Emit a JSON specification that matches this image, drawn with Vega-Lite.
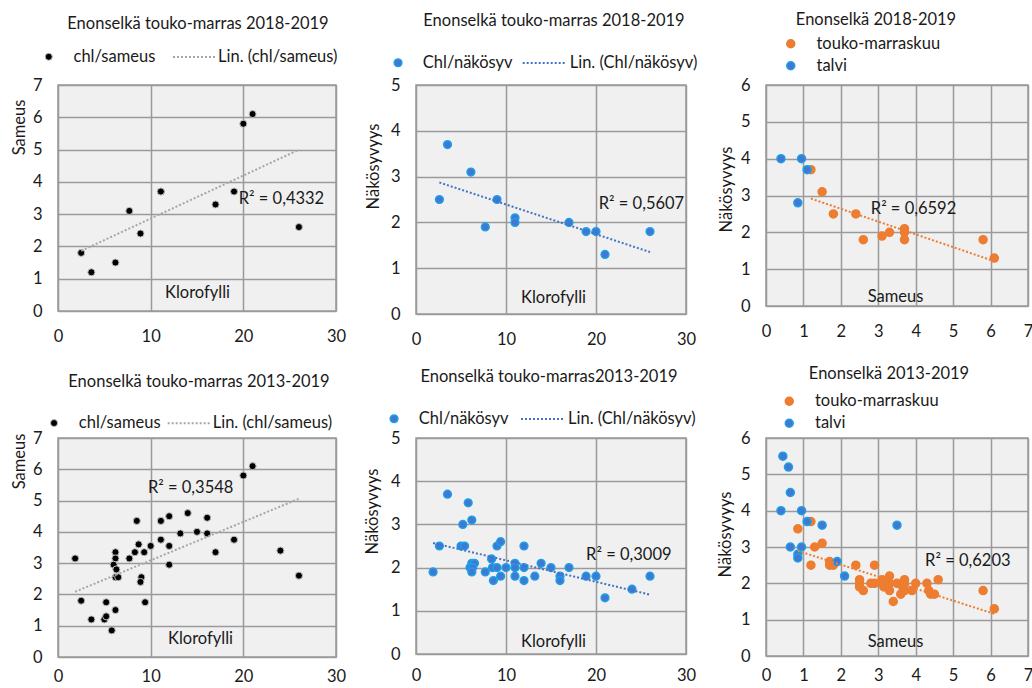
{
"$schema": "https://vega.github.io/schema/vega-lite/v6.json",
"padding": {"left": 10, "top": 11, "right": 0, "bottom": 0},
"config": {
  "font": "Lato",
  "view": {"fill": "#f0f0f0", "stroke": "#9a9a9a", "strokeWidth": 1.5},
  "axis": {"grid": true, "gridColor": "#9a9a9a", "gridWidth": 1.5, "gridOpacity": 1, "domain": false, "ticks": false, "labelFont": "Lato", "labelFontSize": 16.5, "labelColor": "#1a1a1a", "labelFlush": false, "labelOverlap": false, "titleFont": "Lato", "titleFontSize": 16.5, "titleFontWeight": "normal", "titleColor": "#1a1a1a", "titleBaseline": "middle"},
  "axisX": {"labelPadding": 17},
  "axisY": {"labelPadding": 16},
  "title": {"font": "Lato", "fontSize": 16.5, "fontWeight": "normal", "color": "#1a1a1a", "anchor": "middle", "frame": "group"},
  "legend": {"labelFont": "Lato", "labelFontSize": 16.5, "labelColor": "#1a1a1a", "padding": 0, "title": null},
  "text": {"font": "Lato", "fontSize": 16.5, "color": "#1a1a1a"}
},
"datasets": {
  "p1": [{"chl":2.5,"sam":1.8},{"chl":3.6,"sam":1.2},{"chl":6.2,"sam":1.5},{"chl":7.7,"sam":3.1},{"chl":8.9,"sam":2.4},{"chl":11.1,"sam":3.7},{"chl":11.1,"sam":3.7},{"chl":17,"sam":3.3},{"chl":19,"sam":3.7},{"chl":20,"sam":5.8},{"chl":21,"sam":6.1},{"chl":26,"sam":2.6}],
  "p2": [{"chl":2.6,"nak":2.5},{"chl":3.5,"nak":3.7},{"chl":6.1,"nak":3.1},{"chl":7.7,"nak":1.9},{"chl":9,"nak":2.5},{"chl":11,"nak":2.1},{"chl":11,"nak":2.0},{"chl":17,"nak":2.0},{"chl":18.9,"nak":1.8},{"chl":20,"nak":1.8},{"chl":21,"nak":1.3},{"chl":26,"nak":1.8}],
  "p3": [{"sam":1.2,"nak":3.7,"s":"touko-marraskuu"},{"sam":1.5,"nak":3.1,"s":"touko-marraskuu"},{"sam":1.8,"nak":2.5,"s":"touko-marraskuu"},{"sam":2.4,"nak":2.5,"s":"touko-marraskuu"},{"sam":2.6,"nak":1.8,"s":"touko-marraskuu"},{"sam":3.1,"nak":1.9,"s":"touko-marraskuu"},{"sam":3.3,"nak":2.0,"s":"touko-marraskuu"},{"sam":3.7,"nak":2.1,"s":"touko-marraskuu"},{"sam":3.7,"nak":2.0,"s":"touko-marraskuu"},{"sam":3.7,"nak":1.8,"s":"touko-marraskuu"},{"sam":5.8,"nak":1.8,"s":"touko-marraskuu"},{"sam":6.1,"nak":1.3,"s":"touko-marraskuu"},
         {"sam":0.4,"nak":4.0,"s":"talvi"},{"sam":0.95,"nak":4.0,"s":"talvi"},{"sam":1.1,"nak":3.7,"s":"talvi"},{"sam":0.85,"nak":2.8,"s":"talvi"}],
  "p4": [{"chl":1.85,"sam":3.15},{"chl":2.5,"sam":1.8},{"chl":3.6,"sam":1.2},{"chl":5.0,"sam":1.2},{"chl":5.2,"sam":1.3},{"chl":5.2,"sam":1.75},{"chl":5.8,"sam":0.85},{"chl":6.2,"sam":1.5},{"chl":6.2,"sam":3.35},{"chl":6.2,"sam":3.15},{"chl":6.0,"sam":2.95},{"chl":6.3,"sam":2.8},{"chl":6.2,"sam":2.55},{"chl":6.5,"sam":2.55},{"chl":7.7,"sam":3.15},{"chl":8.3,"sam":3.35},{"chl":8.5,"sam":4.35},{"chl":8.7,"sam":3.6},{"chl":9.3,"sam":3.35},{"chl":9.0,"sam":2.55},{"chl":8.9,"sam":2.4},{"chl":9.4,"sam":1.75},{"chl":10,"sam":3.55},{"chl":11.1,"sam":4.35},{"chl":11.1,"sam":3.75},{"chl":12,"sam":4.5},{"chl":12,"sam":3.55},{"chl":12,"sam":2.95},{"chl":13.2,"sam":3.95},{"chl":14,"sam":4.6},{"chl":15,"sam":4.0},{"chl":16.1,"sam":4.45},{"chl":16.1,"sam":3.95},{"chl":17,"sam":3.35},{"chl":19,"sam":3.75},{"chl":20,"sam":5.8},{"chl":21,"sam":6.1},{"chl":24,"sam":3.4},{"chl":26,"sam":2.6}],
  "p5": [{"chl":1.9,"nak":1.9},{"chl":2.6,"nak":2.5},{"chl":3.5,"nak":3.7},{"chl":5.8,"nak":3.5},{"chl":5.2,"nak":3.0},{"chl":6.2,"nak":3.1},{"chl":5.0,"nak":2.5},{"chl":5.4,"nak":2.5},{"chl":6.2,"nak":2.1},{"chl":6.5,"nak":2.1},{"chl":6.0,"nak":2.0},{"chl":6.3,"nak":2.0},{"chl":6.2,"nak":1.9},{"chl":7.7,"nak":1.9},{"chl":8.4,"nak":2.2},{"chl":8.5,"nak":2.0},{"chl":8.6,"nak":1.7},{"chl":9.0,"nak":2.5},{"chl":9.4,"nak":2.6},{"chl":9.0,"nak":2.0},{"chl":9.4,"nak":1.8},{"chl":10,"nak":2.0},{"chl":11,"nak":2.1},{"chl":11,"nak":2.0},{"chl":11,"nak":1.8},{"chl":12,"nak":2.5},{"chl":12,"nak":2.0},{"chl":12,"nak":1.7},{"chl":13.2,"nak":1.8},{"chl":13.9,"nak":2.1},{"chl":15,"nak":2.0},{"chl":16,"nak":1.8},{"chl":16,"nak":1.7},{"chl":17,"nak":2.0},{"chl":18.9,"nak":1.8},{"chl":20,"nak":1.8},{"chl":21,"nak":1.3},{"chl":24,"nak":1.5},{"chl":26,"nak":1.8}],
  "p6": [{"sam":0.85,"nak":3.5,"s":"touko-marraskuu"},{"sam":1.2,"nak":3.7,"s":"touko-marraskuu"},{"sam":1.2,"nak":2.5,"s":"touko-marraskuu"},{"sam":1.3,"nak":3.0,"s":"touko-marraskuu"},{"sam":1.5,"nak":3.1,"s":"touko-marraskuu"},{"sam":1.7,"nak":2.6,"s":"touko-marraskuu"},{"sam":1.7,"nak":2.5,"s":"touko-marraskuu"},{"sam":1.8,"nak":2.5,"s":"touko-marraskuu"},{"sam":2.4,"nak":2.5,"s":"touko-marraskuu"},{"sam":2.9,"nak":2.5,"s":"touko-marraskuu"},{"sam":2.5,"nak":2.1,"s":"touko-marraskuu"},{"sam":2.5,"nak":2.0,"s":"touko-marraskuu"},{"sam":2.5,"nak":1.9,"s":"touko-marraskuu"},{"sam":2.6,"nak":1.8,"s":"touko-marraskuu"},{"sam":2.8,"nak":2.0,"s":"touko-marraskuu"},{"sam":2.9,"nak":2.0,"s":"touko-marraskuu"},{"sam":3.1,"nak":2.1,"s":"touko-marraskuu"},{"sam":3.1,"nak":2.0,"s":"touko-marraskuu"},{"sam":3.15,"nak":1.9,"s":"touko-marraskuu"},{"sam":3.3,"nak":2.2,"s":"touko-marraskuu"},{"sam":3.3,"nak":2.0,"s":"touko-marraskuu"},{"sam":3.3,"nak":1.8,"s":"touko-marraskuu"},{"sam":3.5,"nak":2.0,"s":"touko-marraskuu"},{"sam":3.4,"nak":1.5,"s":"touko-marraskuu"},{"sam":3.7,"nak":2.1,"s":"touko-marraskuu"},{"sam":3.7,"nak":2.0,"s":"touko-marraskuu"},{"sam":3.65,"nak":1.9,"s":"touko-marraskuu"},{"sam":3.6,"nak":1.7,"s":"touko-marraskuu"},{"sam":3.7,"nak":1.8,"s":"touko-marraskuu"},{"sam":3.9,"nak":1.8,"s":"touko-marraskuu"},{"sam":4.0,"nak":2.0,"s":"touko-marraskuu"},{"sam":4.3,"nak":2.0,"s":"touko-marraskuu"},{"sam":4.35,"nak":1.8,"s":"touko-marraskuu"},{"sam":4.4,"nak":1.7,"s":"touko-marraskuu"},{"sam":4.5,"nak":1.7,"s":"touko-marraskuu"},{"sam":4.6,"nak":2.1,"s":"touko-marraskuu"},{"sam":5.8,"nak":1.8,"s":"touko-marraskuu"},{"sam":6.1,"nak":1.3,"s":"touko-marraskuu"},
         {"sam":0.45,"nak":5.5,"s":"talvi"},{"sam":0.6,"nak":5.2,"s":"talvi"},{"sam":0.65,"nak":4.5,"s":"talvi"},{"sam":0.4,"nak":4.0,"s":"talvi"},{"sam":0.95,"nak":4.0,"s":"talvi"},{"sam":1.1,"nak":3.7,"s":"talvi"},{"sam":1.5,"nak":3.6,"s":"talvi"},{"sam":0.65,"nak":3.0,"s":"talvi"},{"sam":0.95,"nak":3.0,"s":"talvi"},{"sam":0.85,"nak":2.8,"s":"talvi"},{"sam":0.85,"nak":2.7,"s":"talvi"},{"sam":1.9,"nak":2.6,"s":"talvi"},{"sam":2.1,"nak":2.2,"s":"talvi"},{"sam":3.5,"nak":3.6,"s":"talvi"}]
},
"columns": 3,
"align": "each",
"bounds": "flush",
"spacing": {"row": 124, "column": 80},
"resolve": {"scale": {"color": "independent", "fill": "independent", "stroke": "independent", "x": "independent", "y": "independent"}, "legend": {"color": "independent", "fill": "independent", "stroke": "independent"}, "axis": {"x": "independent", "y": "independent"}},
"concat": [
  {
    "width": 278, "height": 226,
    "title": {"text": "Enonselkä touko-marras 2018-2019", "offset": 3, "dx": 1},
    "encoding": {
      "x": {"field": "chl", "type": "quantitative", "scale": {"domain": [0, 30]}, "axis": {"values": [0, 10, 20, 30], "title": "Klorofylli", "titleX": 139, "titleY": -19}},
      "y": {"field": "sam", "type": "quantitative", "scale": {"domain": [0, 7]}, "axis": {"values": [0, 1, 2, 3, 4, 5, 6, 7], "title": "Sameus", "titleX": -39, "titleY": 42}}
    },
    "layer": [
      {"data": {"name": "p1"},
       "mark": {"type": "point", "filled": true, "size": 50, "stroke": "#c0c0c0", "strokeWidth": 1, "opacity": 1},
       "encoding": {
         "fill": {"datum": "chl/sameus", "type": "nominal", "scale": {"domain": ["chl/sameus"], "range": ["#000000"]},
           "legend": {"orient": "none", "legendX": -17.5, "legendY": -36.5, "symbolType": "circle", "symbolSize": 50, "symbolStrokeColor": "#c0c0c0", "symbolStrokeWidth": 1, "labelOffset": 16.5}}
       }},
      {"data": {"name": "p1"},
       "transform": [{"regression": "sam", "on": "chl"}],
       "mark": {"type": "line", "strokeDash": [2, 2], "strokeWidth": 2},
       "encoding": {"stroke": {"datum": "Lin. (chl/sameus)", "type": "nominal", "scale": {"domain": ["Lin. (chl/sameus)"], "range": ["#a6a6a6"]},
           "legend": {"orient": "none", "legendX": 114, "legendY": -50, "symbolType": "stroke", "symbolSize": 1764, "symbolStrokeWidth": 2, "symbolDash": [2, 2], "labelOffset": 2}}}},
      {"data": {"values": [{"chl": 19.5, "sam": 3.48, "t": "R² = 0,4332"}]},
       "mark": {"type": "text", "align": "left", "baseline": "middle"},
       "encoding": {"text": {"field": "t"}}}
    ]
  },
  {
    "width": 270, "height": 229,
    "title": {"text": "Enonselkä touko-marras 2018-2019", "offset": 12, "dx": 3},
    "encoding": {
      "x": {"field": "chl", "type": "quantitative", "scale": {"domain": [0, 30]}, "axis": {"values": [0, 10, 20, 30], "title": "Klorofylli", "titleX": 137, "titleY": -17}},
      "y": {"field": "nak", "type": "quantitative", "scale": {"domain": [0, 5]}, "axis": {"values": [0, 1, 2, 3, 4, 5], "title": "Näkösyvyys", "titleX": -43, "titleY": 81}}
    },
    "layer": [
      {"data": {"name": "p2"},
       "mark": {"type": "point", "filled": true, "size": 60, "stroke": "#1ba1ec", "strokeWidth": 1.5, "opacity": 1},
       "encoding": {
         "fill": {"datum": "Chl/näkösyv", "type": "nominal", "scale": {"domain": ["Chl/näkösyv"], "range": ["#4178d0"]},
           "legend": {"orient": "none", "legendX": -26.2, "legendY": -30.5, "symbolType": "circle", "symbolSize": 60, "symbolStrokeColor": "#1ba1ec", "symbolStrokeWidth": 1.5, "labelOffset": 16.5}}
       }},
      {"data": {"name": "p2"},
       "transform": [{"regression": "nak", "on": "chl"}],
       "mark": {"type": "line", "strokeDash": [2, 2], "strokeWidth": 2},
       "encoding": {"stroke": {"datum": "Lin. (Chl/näkösyv)", "type": "nominal", "scale": {"domain": ["Lin. (Chl/näkösyv)"], "range": ["#4472c4"]},
           "legend": {"orient": "none", "legendX": 105.7, "legendY": -44, "symbolType": "stroke", "symbolSize": 1764, "symbolStrokeWidth": 2, "symbolDash": [2, 2], "labelOffset": 4}}}},
      {"data": {"values": [{"chl": 20.3, "nak": 2.41, "t": "R² = 0,5607"}]},
       "mark": {"type": "text", "align": "left", "baseline": "middle"},
       "encoding": {"text": {"field": "t"}}}
    ]
  },
  {
    "width": 262, "height": 221,
    "title": {"text": "Enonselkä 2018-2019", "offset": 7, "dx": -21},
    "encoding": {
      "x": {"field": "sam", "type": "quantitative", "scale": {"domain": [0, 7]}, "axis": {"values": [0, 1, 2, 3, 4, 5, 6, 7], "title": "Sameus", "titleX": 129, "titleY": -10}},
      "y": {"field": "nak", "type": "quantitative", "scale": {"domain": [0, 6]}, "axis": {"values": [0, 1, 2, 3, 4, 5, 6], "title": "Näkösyvyys", "titleX": -40, "titleY": 104}}
    },
    "layer": [
      {"data": {"name": "p3"},
       "mark": {"type": "point", "filled": true, "size": 64, "strokeWidth": 1.5, "opacity": 1},
       "encoding": {
         "color": {"field": "s", "type": "nominal", "sort": null, "scale": {"domain": ["touko-marraskuu", "talvi"], "range": ["#ed7d31", "#4178d0"]},
           "legend": {"orient": "none", "direction": "vertical", "legendX": 16.5, "legendY": -49.5, "symbolType": "circle", "symbolSize": 64, "symbolStrokeWidth": 1.5, "labelOffset": 17.5, "rowPadding": 5}},
         "stroke": {"field": "s", "type": "nominal", "sort": null, "scale": {"domain": ["touko-marraskuu", "talvi"], "range": ["#ed7d31", "#1ba1ec"]},
           "legend": {"orient": "none", "direction": "vertical", "legendX": 16.5, "legendY": -49.5, "symbolType": "circle", "symbolSize": 64, "symbolStrokeWidth": 1.5, "labelOffset": 17.5, "rowPadding": 5}}
       }},
      {"data": {"name": "p3"},
       "transform": [{"filter": "datum.s === 'touko-marraskuu'"}, {"regression": "nak", "on": "sam"}],
       "mark": {"type": "line", "strokeDash": [2, 2], "strokeWidth": 2, "color": "#ed7d31"}},
      {"data": {"values": [{"sam": 2.8, "nak": 2.63, "t": "R² = 0,6592"}]},
       "mark": {"type": "text", "align": "left", "baseline": "middle"},
       "encoding": {"text": {"field": "t"}}}
    ]
  },
  {
    "width": 278, "height": 219,
    "title": {"text": "Enonselkä touko-marras 2013-2019", "offset": 11, "dx": 2},
    "encoding": {
      "x": {"field": "chl", "type": "quantitative", "scale": {"domain": [0, 30]}, "axis": {"values": [0, 10, 20, 30], "title": "Klorofylli", "titleX": 142, "titleY": -19, "labelPadding": 11}},
      "y": {"field": "sam", "type": "quantitative", "scale": {"domain": [0, 7]}, "axis": {"values": [0, 1, 2, 3, 4, 5, 6, 7], "title": "Sameus", "titleX": -39, "titleY": 23}}
    },
    "layer": [
      {"data": {"name": "p4"},
       "mark": {"type": "point", "filled": true, "size": 50, "stroke": "#c0c0c0", "strokeWidth": 1, "opacity": 1},
       "encoding": {
         "fill": {"datum": "chl/sameus", "type": "nominal", "scale": {"domain": ["chl/sameus"], "range": ["#000000"]},
           "legend": {"orient": "none", "legendX": -12.2, "legendY": -23.2, "symbolType": "circle", "symbolSize": 50, "symbolStrokeColor": "#c0c0c0", "symbolStrokeWidth": 1, "labelOffset": 16.5}}
       }},
      {"data": {"name": "p4"},
       "transform": [{"regression": "sam", "on": "chl"}],
       "mark": {"type": "line", "strokeDash": [2, 2], "strokeWidth": 2},
       "encoding": {"stroke": {"datum": "Lin. (chl/sameus)", "type": "nominal", "scale": {"domain": ["Lin. (chl/sameus)"], "range": ["#a6a6a6"]},
           "legend": {"orient": "none", "legendX": 108.7, "legendY": -36.7, "symbolType": "stroke", "symbolSize": 1764, "symbolStrokeWidth": 2, "symbolDash": [2, 2], "labelOffset": 2}}}},
      {"data": {"values": [{"chl": 9.7, "sam": 5.39, "t": "R² = 0,3548"}]},
       "mark": {"type": "text", "align": "left", "baseline": "middle"},
       "encoding": {"text": {"field": "t"}}}
    ]
  },
  {
    "width": 270, "height": 216,
    "title": {"text": "Enonselkä touko-marras2013-2019", "offset": 12, "dx": -2},
    "encoding": {
      "x": {"field": "chl", "type": "quantitative", "scale": {"domain": [0, 30]}, "axis": {"values": [0, 10, 20, 30], "title": "Klorofylli", "titleX": 137, "titleY": -13, "labelPadding": 13}},
      "y": {"field": "nak", "type": "quantitative", "scale": {"domain": [0, 5]}, "axis": {"values": [0, 1, 2, 3, 4, 5], "title": "Näkösyvyys", "titleX": -44, "titleY": 73}}
    },
    "layer": [
      {"data": {"name": "p5"},
       "mark": {"type": "point", "filled": true, "size": 60, "stroke": "#1ba1ec", "strokeWidth": 1.5, "opacity": 1},
       "encoding": {
         "fill": {"datum": "Chl/näkösyv", "type": "nominal", "scale": {"domain": ["Chl/näkösyv"], "range": ["#4178d0"]},
           "legend": {"orient": "none", "legendX": -30.2, "legendY": -27.5, "symbolType": "circle", "symbolSize": 60, "symbolStrokeColor": "#1ba1ec", "symbolStrokeWidth": 1.5, "labelOffset": 16.5}}
       }},
      {"data": {"name": "p5"},
       "transform": [{"regression": "nak", "on": "chl"}],
       "mark": {"type": "line", "strokeDash": [2, 2], "strokeWidth": 2},
       "encoding": {"stroke": {"datum": "Lin. (Chl/näkösyv)", "type": "nominal", "scale": {"domain": ["Lin. (Chl/näkösyv)"], "range": ["#4472c4"]},
           "legend": {"orient": "none", "legendX": 104, "legendY": -41, "symbolType": "stroke", "symbolSize": 1764, "symbolStrokeWidth": 2, "symbolDash": [2, 2], "labelOffset": 4}}}},
      {"data": {"values": [{"chl": 18.9, "nak": 2.3, "t": "R² = 0,3009"}]},
       "mark": {"type": "text", "align": "left", "baseline": "middle"},
       "encoding": {"text": {"field": "t"}}}
    ]
  },
  {
    "width": 262, "height": 218,
    "title": {"text": "Enonselkä 2013-2019", "offset": 11, "dx": -8},
    "encoding": {
      "x": {"field": "sam", "type": "quantitative", "scale": {"domain": [0, 7]}, "axis": {"values": [0, 1, 2, 3, 4, 5, 6, 7], "title": "Sameus", "titleX": 129, "titleY": -15, "labelPadding": 11}},
      "y": {"field": "nak", "type": "quantitative", "scale": {"domain": [0, 6]}, "axis": {"values": [0, 1, 2, 3, 4, 5, 6], "title": "Näkösyvyys", "titleX": -41, "titleY": 96}}
    },
    "layer": [
      {"data": {"name": "p6"},
       "mark": {"type": "point", "filled": true, "size": 64, "strokeWidth": 1.5, "opacity": 1},
       "encoding": {
         "color": {"field": "s", "type": "nominal", "sort": null, "scale": {"domain": ["touko-marraskuu", "talvi"], "range": ["#ed7d31", "#4178d0"]},
           "legend": {"orient": "none", "direction": "vertical", "legendX": 15, "legendY": -45, "symbolType": "circle", "symbolSize": 64, "symbolStrokeWidth": 1.5, "labelOffset": 17.5, "rowPadding": 5}},
         "stroke": {"field": "s", "type": "nominal", "sort": null, "scale": {"domain": ["touko-marraskuu", "talvi"], "range": ["#ed7d31", "#1ba1ec"]},
           "legend": {"orient": "none", "direction": "vertical", "legendX": 15, "legendY": -45, "symbolType": "circle", "symbolSize": 64, "symbolStrokeWidth": 1.5, "labelOffset": 17.5, "rowPadding": 5}}
       }},
      {"data": {"name": "p6"},
       "transform": [{"filter": "datum.s === 'touko-marraskuu'"}, {"regression": "nak", "on": "sam"}],
       "mark": {"type": "line", "strokeDash": [2, 2], "strokeWidth": 2, "color": "#ed7d31"}},
      {"data": {"values": [{"sam": 4.25, "nak": 2.62, "t": "R² = 0,6203"}]},
       "mark": {"type": "text", "align": "left", "baseline": "middle"},
       "encoding": {"text": {"field": "t"}}}
    ]
  }
]
}
